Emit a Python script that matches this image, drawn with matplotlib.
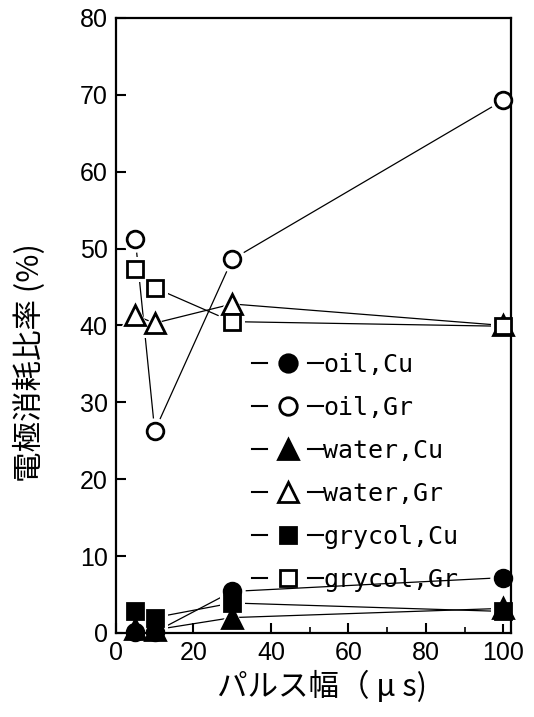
import matplotlib
matplotlib.use("Agg")
import matplotlib.pyplot as plt
from matplotlib.lines import Line2D
from matplotlib.legend_handler import HandlerBase

# ---- data ----
pulse_width = [5, 10, 30, 100]
oil_cu = [0.1, 0.1, 5.4, 7.2]
oil_gr = [51.2, 26.3, 48.6, 69.3]
water_cu = [0.5, 0.4, 2.0, 3.2]
water_gr = [41.3, 40.3, 42.8, 40.0]
grycol_cu = [2.9, 2.0, 3.9, 2.8]
grycol_gr = [47.3, 44.9, 40.5, 39.9]
labels = ["oil,Cu", "oil,Gr", "water,Cu", "water,Gr", "grycol,Cu", "grycol,Gr"]
xlabel = "パルス幅（ μ s)"
ylabel = "電極消耗比率 (%)"

series = [
    ("o", "black", 12),
    ("o", "white", 12),
    ("^", "black", 14),
    ("^", "white", 14),
    ("s", "black", 11),
    ("s", "white", 11),
]
all_values = [oil_cu, oil_gr, water_cu, water_gr, grycol_cu, grycol_gr]

fig = plt.figure(figsize=(5.34, 7.17), dpi=100)
ax = fig.add_axes([0.2172, 0.1172, 0.7398, 0.8577])

halo_extra = 7
for vals in all_values:
    ax.plot(pulse_width, vals, "-", color="black", lw=0.9, zorder=1)
for vals, (m, fc, ms) in zip(all_values, series):
    ax.plot(pulse_width, vals, ls="none", marker=m, ms=ms + halo_extra,
            mfc="white", mec="white", mew=0, zorder=2, clip_on=False)
for vals, (m, fc, ms) in zip(all_values, series):
    ax.plot(pulse_width, vals, ls="none", marker=m, ms=ms, mfc=fc,
            mec="black", mew=2.0, zorder=3, clip_on=False)


class GapHandler(HandlerBase):
    def __init__(self, marker, fc, ms, gap):
        super().__init__()
        self.marker, self.fc, self.ms, self.gap = marker, fc, ms, gap

    def create_artists(self, legend, orig_handle, xdescent, ydescent,
                       width, height, fontsize, trans):
        y = height / 2 - ydescent
        x0 = -xdescent
        cx = x0 + width / 2
        g = self.gap
        l1 = Line2D([x0, cx - g], [y, y], color="black", lw=1.5)
        l2 = Line2D([cx + g, x0 + width], [y, y], color="black", lw=1.5)
        mk = Line2D([cx], [y], ls="none", marker=self.marker, ms=self.ms,
                    mfc=self.fc, mec="black", mew=2.0)
        arts = [l1, l2, mk]
        for a in arts:
            a.set_transform(trans)
        return arts


handles = []
hmap = {}
for (m, fc, ms) in series:
    h = Line2D([], [])
    handles.append(h)
    hmap[h] = GapHandler(m, fc, ms * 1.05, 15)

leg = ax.legend(handles, labels, handler_map=hmap,
                loc="upper left", bbox_to_anchor=(0.344, 0.455), frameon=False,
                prop={"family": "DejaVu Sans Mono", "size": 18},
                handlelength=2.85, handletextpad=0.0, labelspacing=0.76,
                borderpad=0, borderaxespad=0)

ax.set_xlim(0, 102)
ax.set_ylim(0, 80)
ax.set_xticks([0, 20, 40, 60, 80, 100])
ax.set_xticks([10, 30, 50, 70, 90], minor=True)
ax.set_yticks(range(0, 81, 10))
ax.tick_params(axis="both", which="major", direction="in", length=7, width=1.5,
               labelsize=18, pad=6)
ax.tick_params(axis="x", which="minor", direction="in", length=4, width=1.2)
for lab in ax.get_xticklabels() + ax.get_yticklabels():
    lab.set_fontfamily("Liberation Sans")
for s in ax.spines.values():
    s.set_linewidth(1.6)

ax.set_xlabel(xlabel, family=["Noto Sans CJK JP", "DejaVu Sans"], fontsize=22)
ax.xaxis.set_label_coords(0.521, -0.062)
ax.set_ylabel(ylabel, family=["Noto Sans CJK JP", "DejaVu Sans"], fontsize=22)
ax.yaxis.set_label_coords(-0.178, 0.439)

fig.savefig("out.png", dpi=100)
